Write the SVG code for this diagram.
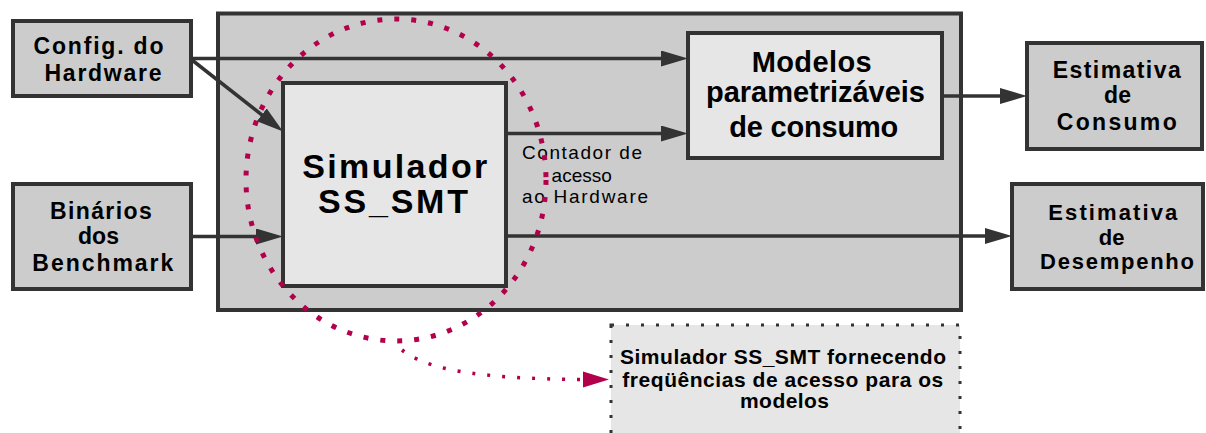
<svg xmlns="http://www.w3.org/2000/svg" width="1206" height="433" viewBox="0 0 1206 433">
<style>
.box{fill:#cccccc;stroke:#333333;stroke-width:4}
.inner{fill:#e6e6e6;stroke:#333333;stroke-width:4}
.t{font-family:"Liberation Sans",Arial,sans-serif;font-weight:bold;fill:#000000}
.m{text-anchor:middle}
.lbl{font-family:"Liberation Sans",Arial,sans-serif;font-weight:normal;fill:#000000;font-size:19px}
.c{stroke:#333333;stroke-width:3.5;fill:none;marker-end:url(#ah)}
.red{stroke:#b3004b;stroke-width:5;fill:none;stroke-dasharray:5 12}
.redc{stroke:#b3004b;stroke-width:3.5;fill:none;stroke-dasharray:3 12;marker-end:url(#rh)}
.note{fill:#e6e6e6;stroke:#333333;stroke-width:3;stroke-dasharray:3 12}
</style>
<defs>
<marker id="ah" markerUnits="userSpaceOnUse" markerWidth="28" markerHeight="17" refX="7" refY="8" orient="auto"><path d="M0,0 L27,8 L0,16 z" fill="#333333"/></marker>
<marker id="rh" markerUnits="userSpaceOnUse" markerWidth="28" markerHeight="17" refX="6" refY="8" orient="auto"><path d="M0,0 L26,8 L0,16 z" fill="#b3004b"/></marker>
</defs>
<rect width="1206" height="433" fill="#ffffff"/>
<g id="sistema"><rect class="box" x="218" y="13.5" width="743" height="296.5"/></g>
<g id="config">
<rect class="box" x="13" y="21" width="178" height="75"/>
<text class="t" font-size="23" x="33.5" y="54" textLength="130" lengthAdjust="spacing">Config. do</text>
<text class="t" font-size="23" x="44.5" y="80.5" textLength="117" lengthAdjust="spacing">Hardware</text>
</g>
<g id="binarios">
<rect class="box" x="13" y="184" width="178" height="105"/>
<text class="t" font-size="23" x="50" y="218.5" textLength="101.7" lengthAdjust="spacing">Binários</text>
<text class="t m" font-size="23" x="98.5" y="244.3">dos</text>
<text class="t" font-size="23" x="32.3" y="270.7" textLength="141" lengthAdjust="spacing">Benchmark</text>
</g>
<g id="simulador">
<rect class="inner" x="283" y="83" width="223" height="203"/>
<text class="t" font-size="34" x="302.3" y="178.3" textLength="185" lengthAdjust="spacing">Simulador</text>
<text class="t" font-size="34" x="318" y="212.7" textLength="150" lengthAdjust="spacing">SS_SMT</text>
</g>
<g id="modelos">
<rect class="inner" x="688" y="33" width="254" height="125"/>
<text class="t" font-size="29" x="751.7" y="72" textLength="120" lengthAdjust="spacing">Modelos</text>
<text class="t" font-size="29" x="706" y="101.7" textLength="219" lengthAdjust="spacing">parametrizáveis</text>
<text class="t" font-size="29" x="729.3" y="137.3" textLength="169" lengthAdjust="spacing">de consumo</text>
</g>
<g id="consumo">
<rect class="box" x="1027" y="43" width="175" height="106"/>
<text class="t" font-size="23" x="1052.7" y="78.3" textLength="128" lengthAdjust="spacing">Estimativa</text>
<text class="t m" font-size="23" x="1117.5" y="103.3">de</text>
<text class="t" font-size="23" x="1056.7" y="130" textLength="120" lengthAdjust="spacing">Consumo</text>
</g>
<g id="desempenho">
<rect class="box" x="1012" y="184" width="191" height="105"/>
<text class="t" font-size="22" x="1048.3" y="219.5" textLength="129" lengthAdjust="spacing">Estimativa</text>
<text class="t m" font-size="22" x="1111.7" y="244.5">de</text>
<text class="t" font-size="22" x="1040" y="269" textLength="154" lengthAdjust="spacing">Desempenho</text>
</g>
<g id="connectors">
<path class="c" d="M191,58.5 L668,58.5"/>
<path class="c" d="M192,60 L267.3,119.1"/>
<path class="c" d="M191,236.5 L263,236.5"/>
<path class="c" d="M506,133.5 L668,133.5"/>
<path class="c" d="M942,96 L1007,96"/>
<path class="c" d="M506,236 L992,236"/>
<text class="lbl" x="522" y="159.3" textLength="120" lengthAdjust="spacing">Contador de</text>
<text class="lbl m" x="581.7" y="181.7">acesso</text>
<text class="lbl" x="522" y="202.7" textLength="126" lengthAdjust="spacing">ao Hardware</text>
</g>
<g id="destaque">
<ellipse class="red" cx="396" cy="180" rx="150" ry="161"/>
</g>
<g id="nota">
<rect class="note" x="611" y="325" width="349" height="125"/>
<text class="t" font-size="21" x="620" y="364.3" textLength="326" lengthAdjust="spacing">Simulador SS_SMT fornecendo</text>
<text class="t" font-size="21" x="622.3" y="386.5" textLength="321" lengthAdjust="spacing">freqüências de acesso para os</text>
<text class="t" font-size="21" x="740" y="408.3" textLength="89" lengthAdjust="spacing">modelos</text>
</g>
<g id="connector-nota">
<path class="redc" d="M402,350 C425,368 470,379 589,379.5"/>
</g>
</svg>
